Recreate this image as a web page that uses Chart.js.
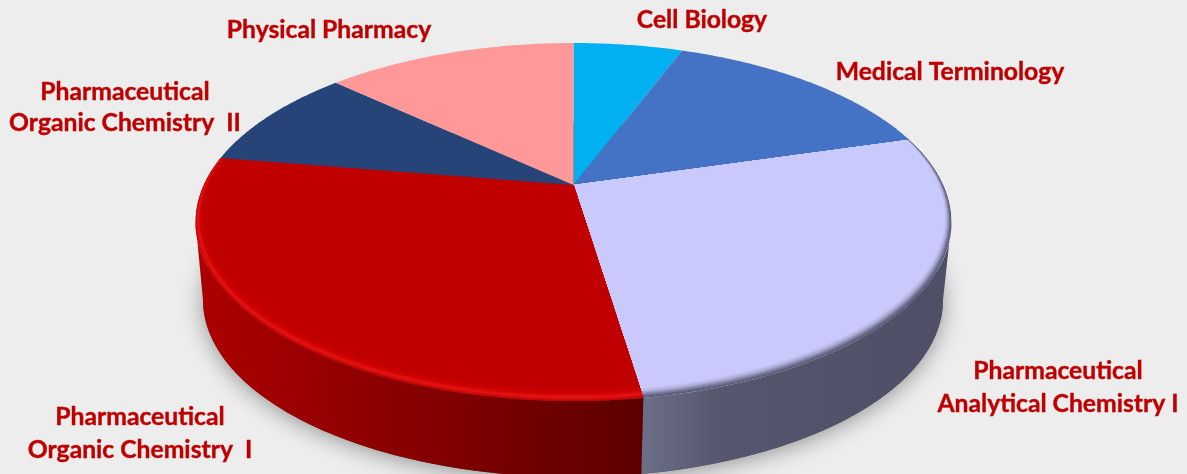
<!DOCTYPE html>
<html>
<head>
<meta charset="utf-8">
<title>Pie</title>
<script src="https://cdn.jsdelivr.net/npm/chart.js@4/dist/chart.umd.js"></script>
<style>
  html, body { margin: 0; padding: 0; background: #ededed; }
  canvas { display: block; }
</style>
</head>
<body>
<canvas id="pie" width="1187" height="474"></canvas>
<script>
// Data, clockwise from 12 o'clock
const categories = [
  ['Cell Biology'],
  ['Medical Terminology'],
  ['Pharmaceutical', 'Analytical Chemistry I'],
  ['Pharmaceutical', 'Organic Chemistry  I'],
  ['Pharmaceutical', 'Organic Chemistry  II'],
  ['Physical Pharmacy']
];
const shares = [5.7, 14.8, 27.1, 30.0, 9.3, 13.1];
const sliceColors = ['#00b0f0', '#4472c4', '#c9c9fb', '#c00000', '#264478', '#ff9999'];

// Label centres (x, first line y, line gap) in the same order as categories
const labelSpots = [[702, 20, 0], [950, 72, 0], [1058, 371, 33], [140, 417, 33], [125, 92, 31], [329, 30, 0]];

// Perspective view of the disc: apex is not at the ellipse centre
const view = { cx: 573.5, apexY: 185, R: 369.8, b: -133.1, c: 0.2067 };
const topOval = { cx: 573.5, cy: 222, rx: 378, ry: 179 };
const baseOval = { cx: 573, cy: 300, rx: 370, ry: 177 };

// Side wall and rim look per slice index, only the front ones show
const wallStops = {
  2: [[643, '#6c6e88'], [720, '#56576e'], [950, '#4e4f67']],
  3: [[195, '#ad0000'], [440, '#820000'], [642, '#5c0000']]
};
const rimStops = {
  2: [[0, '#55566e'], [0.2, '#6f7090'], [0.55, '#b0b0dc'], [0.85, '#c9c9fb'], [1, '#c9c9fb']],
  3: [[0, '#c40202'], [0.3, '#e41616'], [0.55, '#d20404'], [1, '#c00000']]
};

function project(theta) {
  const u = Math.sin(theta), v = Math.cos(theta);
  const w = 1 + view.c * v;
  return { x: view.cx + view.R * u / w, y: (view.apexY + view.b * v) / w };
}

// Ellipse parameter of a rim point, unwrapped so it grows with theta
function ovalParam(theta) {
  const p = project(theta);
  let phi = Math.atan2((p.y - topOval.cy) / topOval.ry, (p.x - topOval.cx) / topOval.rx);
  while (phi < theta - Math.PI * 1.5) phi += Math.PI * 2;
  while (phi > theta + Math.PI * 0.5) phi -= Math.PI * 2;
  return phi;
}

function mix(a, b, t) {
  const pa = [1, 3, 5].map(i => parseInt(a.substr(i, 2), 16));
  const pb = [1, 3, 5].map(i => parseInt(b.substr(i, 2), 16));
  return 'rgb(' + pa.map((v, i) => Math.round(v + (pb[i] - v) * t)).join(',') + ')';
}

function rimColor(stops, t) {
  for (let i = 1; i < stops.length; i++) {
    if (t <= stops[i][0]) {
      return mix(stops[i - 1][1], stops[i][1], (t - stops[i - 1][0]) / (stops[i][0] - stops[i - 1][0]));
    }
  }
  return stops[stops.length - 1][1];
}

function slicePath(ctx, from, to) {
  ctx.beginPath();
  ctx.moveTo(view.cx, view.apexY);
  const n = Math.ceil((to - from) / 0.01);
  for (let i = 0; i <= n; i++) {
    const p = project(from + (to - from) * i / n);
    ctx.lineTo(p.x, p.y);
  }
  ctx.closePath();
}

function drawWall(ctx, index, from, to) {
  const a = Math.max(0, ovalParam(from));
  const b = Math.min(Math.PI, ovalParam(to));
  if (b <= a) return;
  ctx.beginPath();
  const n = 120;
  for (let i = 0; i <= n; i++) {
    const phi = a + (b - a) * i / n;
    ctx.lineTo(topOval.cx + topOval.rx * Math.cos(phi), topOval.cy + topOval.ry * Math.sin(phi));
  }
  for (let i = n; i >= 0; i--) {
    const phi = a + (b - a) * i / n;
    ctx.lineTo(baseOval.cx + baseOval.rx * Math.cos(phi), baseOval.cy + baseOval.ry * Math.sin(phi));
  }
  ctx.closePath();
  const stops = wallStops[index];
  const grad = ctx.createLinearGradient(stops[0][0], 0, stops[stops.length - 1][0], 0);
  stops.forEach(s => grad.addColorStop((s[0] - stops[0][0]) / (stops[stops.length - 1][0] - stops[0][0]), s[1]));
  ctx.fillStyle = grad;
  ctx.fill();
}

// Rim: shrinking ovals that stay glued to the far edge, so it is widest at the front
function drawRim(ctx, stops, from, to) {
  ctx.save();
  slicePath(ctx, from, to);
  ctx.clip();
  const steps = 24;
  for (let i = 0; i <= steps; i++) {
    const t = i / steps;
    ctx.beginPath();
    ctx.ellipse(topOval.cx, topOval.cy - 6 * t, topOval.rx - 8 * t, topOval.ry - 6 * t, 0, 0, Math.PI * 2);
    ctx.fillStyle = rimColor(stops, t);
    ctx.fill();
  }
  ctx.restore();
}

const pie3d = {
  id: 'pie3d',
  // the default flat arcs are replaced, angles still come from the library
  beforeDatasetDraw(chart, args) {
    const ctx = chart.ctx;
    const arcs = args.meta.data;
    const colors = chart.data.datasets[0].backgroundColor;
    const turn = a => a + Math.PI / 2;

    ctx.save();
    ctx.shadowColor = 'rgba(0,0,0,0.38)';
    ctx.shadowBlur = 22;
    ctx.shadowOffsetY = 3;
    ctx.beginPath();
    ctx.ellipse(baseOval.cx, baseOval.cy, baseOval.rx, baseOval.ry, 0, 0, Math.PI * 2);
    ctx.fillStyle = '#555555';
    ctx.fill();
    ctx.restore();

    arcs.forEach((arc, i) => {
      if (wallStops[i]) drawWall(ctx, i, turn(arc.startAngle), turn(arc.endAngle));
    });
    arcs.forEach((arc, i) => {
      const from = turn(arc.startAngle), to = turn(arc.endAngle);
      slicePath(ctx, from, to);
      ctx.fillStyle = colors[i];
      ctx.fill();
      if (rimStops[i]) drawRim(ctx, rimStops[i], from, to);
    });
    return false;
  },
  afterDraw(chart) {
    const ctx = chart.ctx;
    ctx.save();
    ctx.font = 'bold 24.7px Lato';
    ctx.fillStyle = '#c00000';
    ctx.strokeStyle = '#c00000';
    ctx.lineWidth = 0.4;
    ctx.textAlign = 'center';
    ctx.textBaseline = 'middle';
    chart.data.labels.forEach((lines, i) => {
      lines.forEach((line, j) => {
        const y = labelSpots[i][1] + j * labelSpots[i][2];
        ctx.fillText(line, labelSpots[i][0], y);
        ctx.strokeText(line, labelSpots[i][0], y);
      });
    });
    ctx.restore();
  }
};

new Chart(document.getElementById('pie'), {
  type: 'pie',
  data: {
    labels: categories,
    datasets: [{
      data: shares,
      backgroundColor: sliceColors,
      borderWidth: 0
    }]
  },
  options: {
    responsive: false,
    animation: false,
    plugins: {
      legend: { display: false },
      tooltip: { enabled: false }
    }
  },
  plugins: [pie3d]
});
</script>
</body>
</html>
